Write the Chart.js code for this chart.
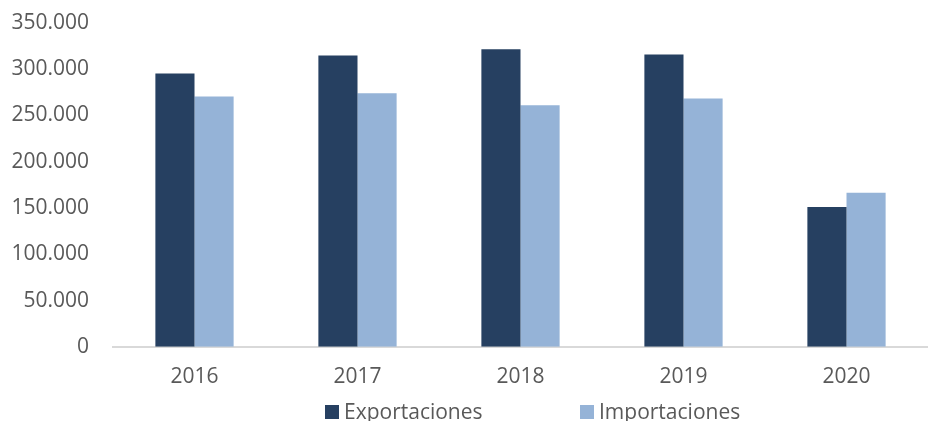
<!DOCTYPE html>
<html>
<head>
<meta charset="utf-8">
<script src="https://cdn.jsdelivr.net/npm/chart.js@4"></script>
<style>
  html, body { margin: 0; padding: 0; background: #fff; }
  #wrap { width: 928px; height: 421px; }
</style>
</head>
<body>
<div id="wrap"><canvas id="grafico"></canvas></div>
<script>
  const anios = ['2016', '2017', '2018', '2019', '2020'];
  const exportaciones = [295500, 315000, 321500, 316000, 151000];
  const importaciones = [270500, 274000, 261000, 268500, 166500];
  const ticksY = [0, 50000, 100000, 150000, 200000, 250000, 300000, 350000];

  const fuente = { family: "'Open Sans', sans-serif", size: 21 };
  const gris = '#595959';

  // leyenda dibujada a mano para poder separar los dos elementos
  const leyenda = {
    id: 'leyenda',
    afterDraw(chart) {
      const c = chart.ctx;
      const xs = [325, 580];
      c.save();
      c.font = "21px 'Open Sans', sans-serif";
      c.textBaseline = 'alphabetic';
      c.textAlign = 'left';
      chart.data.datasets.forEach((ds, i) => {
        c.fillStyle = ds.backgroundColor;
        c.fillRect(xs[i], 405, 14, 14);
        c.fillStyle = gris;
        c.fillText(ds.label, xs[i] + 19, 419);
      });
      c.restore();
    }
  };

  const ctx = document.getElementById('grafico').getContext('2d');
  const grafico = new Chart(ctx, {
    type: 'bar',
    data: {
      labels: anios,
      datasets: [{
        label: 'Exportaciones',
        data: exportaciones,
        backgroundColor: '#264061'
      }, {
        label: 'Importaciones',
        data: importaciones,
        backgroundColor: '#95B3D7'
      }]
    },
    options: {
      responsive: true,
      maintainAspectRatio: false,
      animation: false,
      layout: { padding: { top: 23, right: 0, left: 0, bottom: 13 } },
      datasets: {
        bar: { barPercentage: 1, categoryPercentage: 0.48 }
      },
      plugins: {
        legend: { display: false },
        tooltip: { enabled: false }
      },
      scales: {
        y: {
          min: 0,
          max: 350000,
          afterFit: (s) => { s.width = 113; s.paddingTop = 0; s.paddingBottom = 0; },
          afterBuildTicks: (s) => { s.ticks = ticksY.map(v => ({ value: v })); },
          grid: { display: false, drawTicks: false },
          border: { display: false },
          ticks: {
            color: gris,
            font: fuente,
            padding: 24,
            callback: (v) => v.toLocaleString('es-ES', { useGrouping: 'always' })
          }
        },
        x: {
          grid: { display: false, drawTicks: false },
          border: { color: '#D9D9D9', width: 2 },
          ticks: {
            color: gris,
            font: fuente,
            padding: 18
          }
        }
      }
    },
    plugins: [leyenda]
  });
</script>
</body>
</html>
